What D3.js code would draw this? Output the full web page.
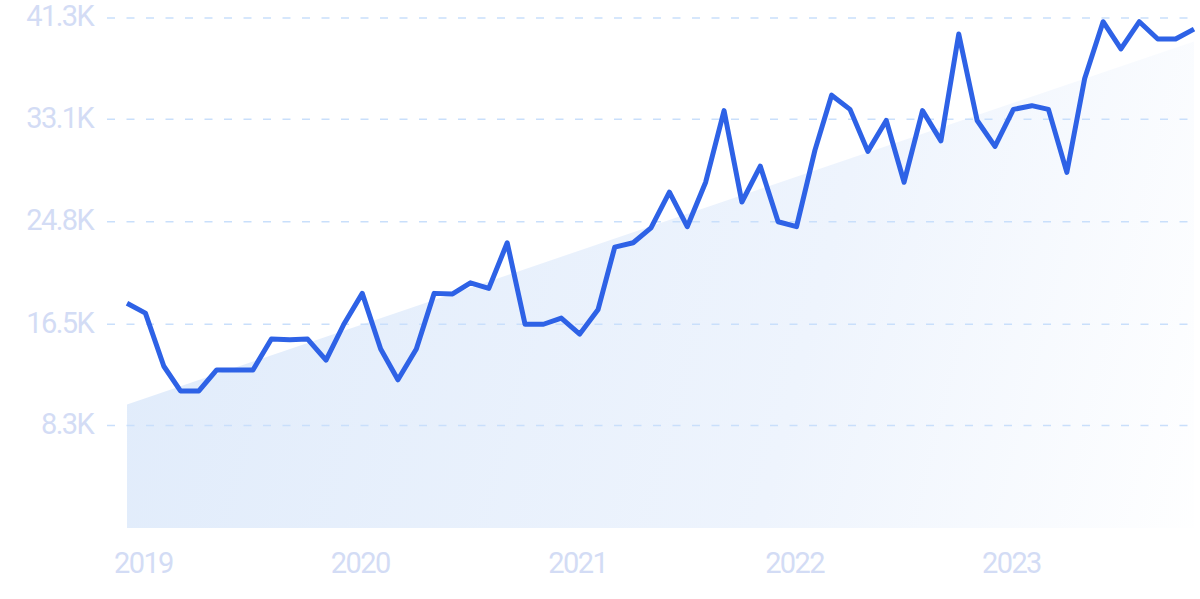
<!DOCTYPE html>
<html>
<head>
<meta charset="utf-8">
<script src="https://cdn.jsdelivr.net/npm/d3@7"></script>
<style>
  html, body { margin: 0; padding: 0; background: #fff; }
  svg { display: block; }
  .tick-label { font-family: Roboto, sans-serif; fill: #d3dcf5; }
</style>
</head>
<body>
<div id="chart"></div>
<script>
// monthly search volume, Dec 2018 .. Nov 2023 (thousands)
var firstMonth = "2018-12";
var volume = [
    18.2, 17.4, 13.1, 11.1, 11.1, 12.8, 12.8, 12.8, 15.3, 15.25, 15.3, 13.6,
    16.5, 19.0, 14.5, 12.0, 14.5, 19.0, 18.95, 19.85, 19.4, 23.1, 16.5, 16.5,
    17.0, 15.7, 17.7, 22.75, 23.1, 24.3, 27.2, 24.4, 28.0, 33.8, 26.4, 29.3,
    24.8, 24.4, 30.6, 35.05, 33.9, 30.5, 33.0, 28.0, 33.8, 31.35, 40.0, 33.0,
    30.9, 33.9, 34.2, 33.9, 28.8, 36.4, 41.0, 38.8, 41.0, 39.6, 39.6, 40.4
];
// trend line, first and last month (thousands)
var trend = [10.0, 39.4];
var yTicks = [8.3, 16.5, 24.8, 33.1, 41.3];
var yearTicks = ["2019", "2020", "2021", "2022", "2023"];

var width = 1200;
var height = 599;
var margin = { top: 18, right: 6, bottom: 71, left: 127 };

var parseMonth = d3.timeParse("%Y-%m");
var start = parseMonth(firstMonth);
var data = volume.map(function (v, i) {
    return { date: d3.timeMonth.offset(start, i), value: v };
});
var trendData = [
    { date: data[0].date, value: trend[0] },
    { date: data[data.length - 1].date, value: trend[1] }
];

var x = d3.scaleTime()
    .domain(d3.extent(data, function (d) { return d.date; }))
    .range([margin.left, width - margin.right]);

var y = d3.scaleLinear()
    .domain([0, 41.3])
    .range([height - margin.bottom, margin.top]);

var svg = d3.select("#chart")
    .append("svg")
    .attr("width", width)
    .attr("height", height);

var defs = svg.append("defs");
var grad = defs.append("linearGradient")
    .attr("id", "trendFill")
    .attr("gradientUnits", "userSpaceOnUse")
    .attr("x1", 127).attr("y1", 330)
    .attr("x2", 1195).attr("y2", 600);
grad.append("stop").attr("offset", "0%").attr("stop-color", "#e1ecfb");
grad.append("stop").attr("offset", "60%").attr("stop-color", "#eef4fd");
grad.append("stop").attr("offset", "100%").attr("stop-color", "#ffffff");

// trend area
var area = d3.area()
    .x(function (d) { return x(d.date); })
    .y0(y(0))
    .y1(function (d) { return y(d.value); });

svg.append("path")
    .datum(trendData)
    .attr("d", area)
    .attr("fill", "url(#trendFill)");

// grid lines
svg.append("g")
    .selectAll("line")
    .data(yTicks)
    .enter()
    .append("line")
    .attr("x1", 107)
    .attr("x2", width - 6)
    .attr("y1", function (d) { return y(d); })
    .attr("y2", function (d) { return y(d); })
    .attr("stroke", "#c9dffb")
    .attr("stroke-width", 1.5)
    .attr("stroke-dasharray", "8,11.5");

// y labels
svg.append("g")
    .selectAll("text")
    .data(yTicks)
    .enter()
    .append("text")
    .attr("class", "tick-label")
    .attr("x", 93)
    .attr("y", function (d) { return y(d) + 8.3; })
    .attr("text-anchor", "end")
    .attr("font-size", 29)
    .attr("letter-spacing", -1.6)
    .text(function (d) { return d.toFixed(1) + "K"; });

// x labels
svg.append("g")
    .selectAll("text")
    .data(yearTicks)
    .enter()
    .append("text")
    .attr("class", "tick-label")
    .attr("x", function (d) { return x(parseMonth(d + "-01")) - 2; })
    .attr("y", 573)
    .attr("text-anchor", "middle")
    .attr("font-size", 29)
    .attr("letter-spacing", -1.6)
    .text(function (d) { return d; });

// main line
var line = d3.line()
    .x(function (d) { return x(d.date); })
    .y(function (d) { return y(d.value); });

svg.append("path")
    .datum(data)
    .attr("d", line)
    .attr("fill", "none")
    .attr("stroke", "#2e62e6")
    .attr("stroke-width", 5)
    .attr("stroke-linejoin", "round")
    .attr("stroke-linecap", "butt");
</script>
</body>
</html>
